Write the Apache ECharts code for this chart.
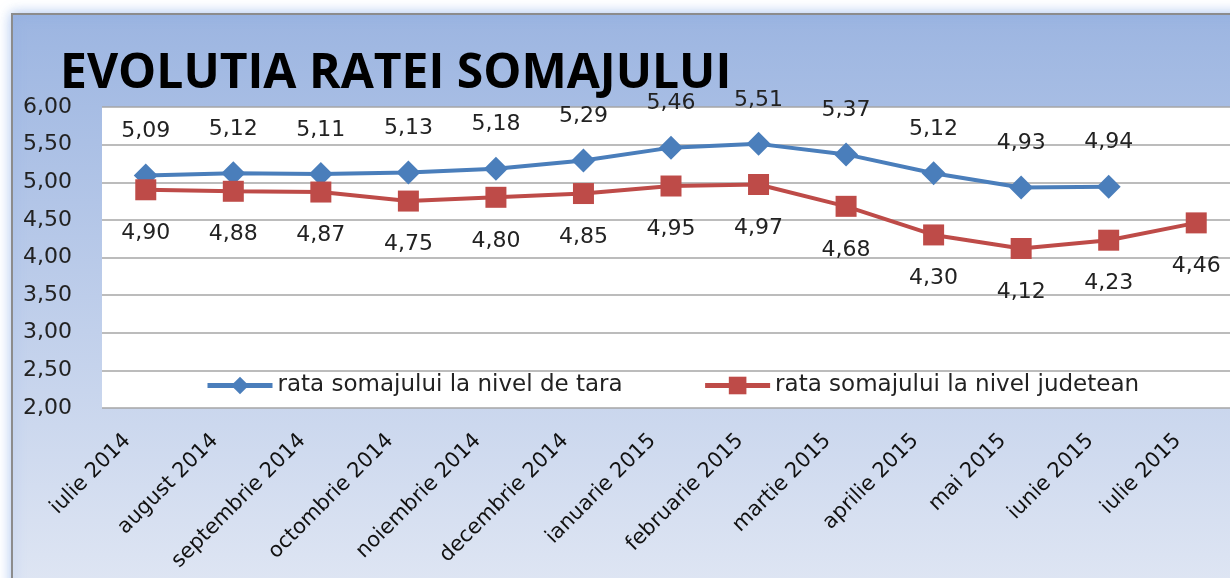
<!DOCTYPE html>
<html lang="ro">
  <head>
    <meta charset="UTF-8" />
    <title>Evolutia ratei somajului</title>
    <script src="https://cdn.jsdelivr.net/npm/echarts@6/dist/echarts.min.js"></script>
    <style>
      html, body { margin: 0; padding: 0; background: #fff; }
    </style>
  </head>
  <body>
    <div id="main" style="width: 1230px; height: 578px"></div>
    <script type="text/javascript">
      // data
      const luni = [
        "iulie 2014", "august 2014", "septembrie 2014", "octombrie 2014",
        "noiembrie 2014", "decembrie 2014", "ianuarie 2015", "februarie 2015",
        "martie 2015", "aprilie 2015", "mai 2015", "iunie 2015", "iulie 2015"
      ];
      const rataTara = [5.09, 5.12, 5.11, 5.13, 5.18, 5.29, 5.46, 5.51, 5.37, 5.12, 4.93, 4.94, null];
      const rataJudet = [4.90, 4.88, 4.87, 4.75, 4.80, 4.85, 4.95, 4.97, 4.68, 4.30, 4.12, 4.23, 4.46];

      const fmt = (v) => v.toFixed(2).replace(".", ",");
      const font = "'DejaVu Sans', sans-serif";
      const titleFont = "'Open Sans', 'DejaVu Sans', sans-serif";

      let myChart = echarts.init(document.getElementById("main"));

      let options = {
        animation: false,
        textStyle: { fontFamily: font },
        graphic: [
          {
            type: "rect",
            z: -10,
            shape: { x: 12, y: 14, width: 1260, height: 600 },
            style: {
              fill: new echarts.graphic.LinearGradient(0, 0, 0, 1, [
                { offset: 0, color: "#9cb5e1" },
                { offset: 1, color: "#e2e8f4" }
              ]),
              stroke: "#8c8c8c",
              lineWidth: 2,
              shadowBlur: 12,
              shadowColor: "rgba(120,160,230,0.6)"
            }
          },
          {
            type: "text",
            left: 60,
            top: 50,
            style: {
              text: "EVOLUTIA RATEI SOMAJULUI",
              font: "bold 48px " + titleFont,
              fill: "#000"
            }
          }
        ],
        grid: {
          left: 102,
          right: -10,
          top: 107,
          bottom: 170,
          outerBoundsMode: "none",
          containLabel: false,
          show: true,
          backgroundColor: "#fff",
          borderWidth: 0
        },
        legend: {
          left: 200,
          top: 369,
          itemGap: 80,
          itemWidth: 65,
          itemHeight: 22,
          lineStyle: { width: 5 },
          textStyle: { fontSize: 23, color: "#222", fontFamily: font },
          data: ["rata somajului la nivel de tara", "rata somajului la nivel judetean"]
        },
        xAxis: {
          type: "category",
          data: luni,
          boundaryGap: true,
          axisLine: { show: false },
          axisTick: { show: false },
          axisLabel: {
            rotate: 45,
            margin: 11,
            padding: [0, 26, 0, 0],
            fontSize: 21,
            color: "#111",
            interval: 0
          }
        },
        yAxis: {
          type: "value",
          min: 2,
          max: 6,
          interval: 0.5,
          axisLine: { show: false },
          axisTick: { show: false },
          splitLine: { lineStyle: { color: "#a6a6a6", width: 1.5 } },
          axisLabel: {
            formatter: fmt,
            fontSize: 22,
            color: "#222",
            margin: 30
          }
        },
        series: [
          {
            name: "rata somajului la nivel de tara",
            type: "line",
            data: rataTara,
            symbol: "diamond",
            symbolSize: 24,
            lineStyle: { width: 4, color: "#4a7ebb" },
            itemStyle: { color: "#4a7ebb" },
            label: {
              show: true,
              position: "top",
              distance: 21,
              formatter: (p) => fmt(p.value),
              fontSize: 22,
              color: "#222"
            }
          },
          {
            name: "rata somajului la nivel judetean",
            type: "line",
            data: rataJudet,
            symbol: "rect",
            symbolSize: 21,
            lineStyle: { width: 4, color: "#be4b48" },
            itemStyle: { color: "#be4b48" },
            label: {
              show: true,
              position: "bottom",
              distance: 22,
              formatter: (p) => fmt(p.value),
              fontSize: 22,
              color: "#222"
            }
          }
        ]
      };

      myChart.setOption(options);
    </script>
  </body>
</html>
